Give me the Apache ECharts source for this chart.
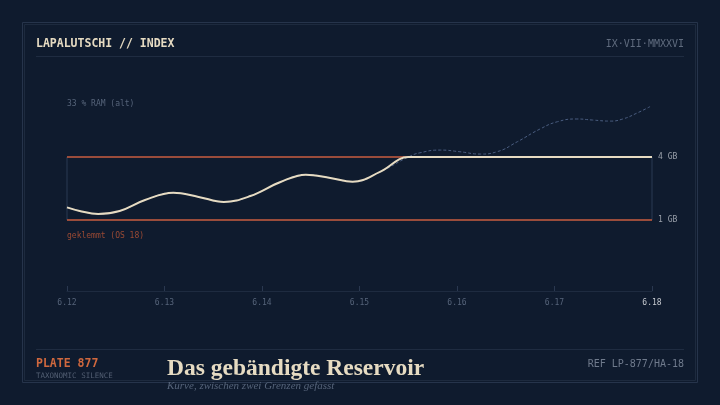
<!DOCTYPE html>
<html>
<head>
<meta charset="utf-8">
<script src="https://cdn.jsdelivr.net/npm/echarts@6/dist/echarts.min.js"></script>
<style>
html,body{margin:0;padding:0;background:#0f1b2e;}
#c{width:720px;height:405px;}
</style>
</head>
<body>
<div id="c"></div>
<script>
// x positions (version 6.12..6.18, stored as hundredths)
const xs = [612.00,612.13,612.32,612.54,612.80,613.09,613.35,613.61,613.88,614.19,614.45,614.70,614.93,615.21,615.50,615.62,615.83,616.03,616.24,616.41,616.62,616.85,617.03,617.23,617.39,617.57,617.70,617.85,617.98];
// unclamped RAM curve (GB)
const ramRaw = [1.60,1.43,1.29,1.43,1.95,2.30,2.10,1.86,2.14,2.81,3.16,3.00,2.82,3.29,4.00,4.20,4.33,4.25,4.14,4.25,4.73,5.33,5.68,5.81,5.76,5.71,5.81,6.10,6.40];
const lowerLimit = 1;
const upperLimit = 4;
const xTicks = [612,613,614,615,616,617,618];

const rawData = xs.map((x,i)=>[x, ramRaw[i]]);
const clampedData = xs.map((x,i)=>[x, Math.min(upperLimit, Math.max(lowerLimit, ramRaw[i]))]);
clampedData.push([618, Math.min(upperLimit, ramRaw[ramRaw.length-1])]);

const MONO = '"DejaVu Sans Mono", monospace';
const SERIF = '"Liberation Serif", serif';

const chart = echarts.init(document.getElementById('c'));
chart.setOption({
  backgroundColor: '#0f1b2e',
  animation: false,
  grid: {left: 67, right: 68, top: 94, bottom: 122},
  xAxis: {
    type: 'value', min: 612, max: 618, interval: 1, offset: 8,
    axisLine: {show: true, onZero: false, lineStyle: {color: '#1e2b40', width: 1}},
    axisTick: {show: true, inside: true, length: 5, lineStyle: {color: '#2a3850'}},
    splitLine: {show: false},
    axisLabel: {
      margin: 8, fontFamily: MONO, fontSize: 8, color: '#56647a',
      formatter: v => v === xTicks[xTicks.length-1] ? '{hi|' + (v/100).toFixed(2) + '}' : (v/100).toFixed(2),
      rich: {hi: {fontFamily: MONO, fontSize: 8, color: '#c4c8ce'}}
    }
  },
  yAxis: {
    type: 'value', min: -2, max: 7, show: false, splitLine: {show: false}
  },
  series: [
    {
      type: 'line', data: rawData, smooth: 0.5, symbol: 'none', z: 2,
      lineStyle: {color: '#4a5d80', width: 1, type: [3, 2]}
    },
    {
      type: 'line', data: clampedData, smooth: 0.4, symbol: 'none', z: 5,
      lineStyle: {color: '#e6dbc2', width: 2},
      markArea: {
        silent: true,
        itemStyle: {color: 'rgba(0,0,0,0)', borderColor: '#2a3a52', borderWidth: 1},
        data: [[{coord: [612, lowerLimit]}, {coord: [618, upperLimit]}]]
      },
      markLine: {
        silent: true, symbol: 'none',
        lineStyle: {color: '#c4583a', width: 1.5, type: 'solid'},
        label: {position: 'end', fontFamily: MONO, fontSize: 8, color: '#9aa0aa', distance: 6, padding: [2, 0, 0, 0]},
        data: [
          {yAxis: upperLimit, label: {formatter: upperLimit + ' GB'}},
          {yAxis: lowerLimit, label: {formatter: lowerLimit + ' GB'}}
        ]
      }
    }
  ],
  graphic: [
    {type: 'rect', shape: {x: 22.5, y: 22.5, width: 675, height: 360}, style: {fill: 'none', stroke: '#26344b', lineWidth: 1}},
    {type: 'rect', shape: {x: 24.5, y: 24.5, width: 671, height: 356}, style: {fill: 'none', stroke: '#1d2a3e', lineWidth: 1}},
    {type: 'line', shape: {x1: 36, y1: 56.5, x2: 684, y2: 56.5}, style: {stroke: '#1f2c41', lineWidth: 1}},
    {type: 'line', shape: {x1: 36, y1: 349.5, x2: 684, y2: 349.5}, style: {stroke: '#1f2c41', lineWidth: 1}},
    {type: 'text', left: 36, top: 38, style: {text: 'LAPALUTSCHI // INDEX', font: 'bold 11.5px ' + MONO, fill: '#e6dbc2'}},
    {type: 'text', right: 36, top: 39, style: {text: 'IX·VII·MMXXVI', font: '10px ' + MONO, fill: '#5f6b7e', textAlign: 'right'}},
    {type: 'text', left: 67, top: 100, style: {text: '33 % RAM (alt)', font: '8px ' + MONO, fill: '#56647a'}},
    {type: 'text', left: 67, top: 232, style: {text: 'geklemmt (OS 18)', font: '8px ' + MONO, fill: '#9a4a34'}},
    {type: 'text', left: 36, top: 358, style: {text: 'PLATE 877', font: 'bold 11.5px ' + MONO, fill: '#d0683e'}},
    {type: 'text', left: 36, top: 372, style: {text: 'TAXONOMIC SILENCE', font: '7.5px ' + MONO, fill: '#525e72'}},
    {type: 'text', left: 167, top: 357, style: {text: 'Das gebändigte Reservoir', font: 'bold 23.5px ' + SERIF, fill: '#e6dbc2'}},
    {type: 'text', left: 167, top: 381, style: {text: 'Kurve, zwischen zwei Grenzen gefasst', font: 'italic 11px ' + SERIF, fill: '#56647a'}},
    {type: 'text', right: 36, top: 359, style: {text: 'REF LP-877/HA-18', font: '10px ' + MONO, fill: '#6f7a8c', textAlign: 'right'}}
  ]
});
</script>
</body>
</html>
